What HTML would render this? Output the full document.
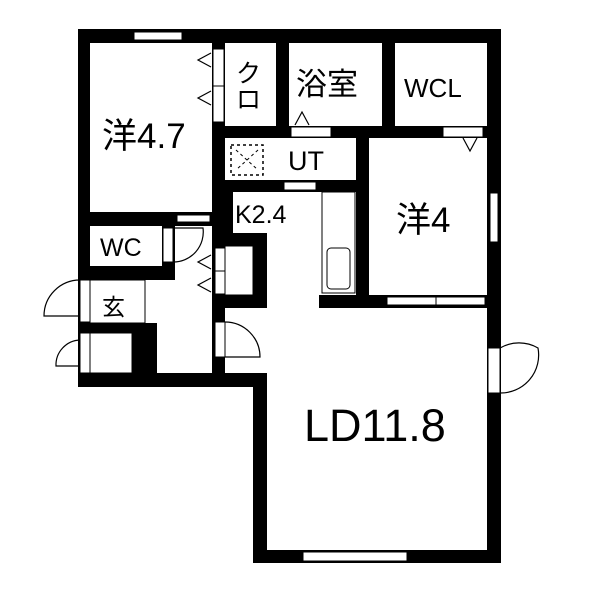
<!DOCTYPE html>
<html><head><style>body{margin:0;background:#fff}svg{display:block}text{font-family:"Liberation Sans","Noto Sans CJK JP",sans-serif;fill:#000}</style></head><body>
<svg width="600" height="600" viewBox="0 0 600 600" xmlns="http://www.w3.org/2000/svg">
<g fill="#000">
<rect x="78" y="29" width="423" height="14"/>
<rect x="78" y="29" width="12" height="251"/>
<rect x="487" y="29" width="14" height="534"/>
<rect x="253" y="550" width="248" height="13"/>
<rect x="253" y="373" width="14" height="190"/>
<rect x="78" y="373" width="189" height="14"/>
<rect x="212" y="43" width="13" height="190"/>
<rect x="276" y="43" width="13" height="95"/>
<rect x="382" y="43" width="13" height="95"/>
<rect x="225" y="126" width="262" height="12"/>
<rect x="212" y="180" width="157" height="12"/>
<rect x="212" y="180" width="21" height="53"/>
<rect x="356" y="138" width="13" height="170"/>
<rect x="319" y="295" width="168" height="13"/>
<rect x="90" y="212" width="122" height="14"/>
<rect x="162" y="226" width="13" height="54"/>
<rect x="78" y="266" width="97" height="14"/>
<rect x="212" y="233" width="55" height="13"/>
<rect x="253" y="233" width="14" height="75"/>
<rect x="212" y="295" width="55" height="13"/>
<rect x="212" y="233" width="13" height="140"/>
<rect x="78" y="323" width="79" height="10"/>
<rect x="132" y="323" width="25" height="50"/>
<rect x="78" y="280" width="12" height="93"/>
</g>
<g fill="#fff" stroke="#000" stroke-width="1">
<rect x="134" y="32" width="48" height="8"/>
<rect x="213" y="49" width="11" height="37"/>
<rect x="213" y="86" width="11" height="36"/>
<rect x="291" y="127" width="40" height="10"/>
<rect x="443" y="127" width="40" height="10"/>
<rect x="284" y="182" width="32" height="8"/>
<rect x="177" y="215" width="33" height="7"/>
<rect x="163" y="228" width="10" height="34"/>
<rect x="215" y="248" width="10" height="23"/>
<rect x="215" y="271" width="10" height="23"/>
<rect x="225" y="246" width="28" height="49"/>
<rect x="215" y="322" width="10" height="35"/>
<rect x="322" y="192" width="33" height="101"/>
<rect x="327" y="248" width="23" height="41" rx="4"/>
<rect x="387" y="297" width="49" height="8"/>
<rect x="436" y="297" width="49" height="8"/>
<rect x="490" y="193" width="8" height="49"/>
<rect x="488" y="348" width="12" height="45"/>
<rect x="303" y="552" width="104" height="9"/>
<rect x="80" y="280" width="10" height="42"/>
<rect x="80" y="333" width="10" height="40"/>
<rect x="90" y="280" width="55" height="43"/>
<rect x="90" y="333" width="42" height="40"/>
<rect x="233" y="192" width="48" height="40" stroke="none"/>
</g>
<g fill="none" stroke="#000" stroke-width="1.2">
<path d="M173 262 A30 30 0 0 0 203 228 L175 228"/>
<path d="M80 280 A36 36 0 0 0 44 316 L80 316"/>
<path d="M80 340 A25 25 0 0 0 56 366 L80 366"/>
<path d="M225 322 A35 35 0 0 1 260 357 L225 357"/>
<path d="M500 348 A38 38 0 0 1 538 348 A38 38 0 0 1 500 393"/>
<path d="M211 53 L198 60 L211 67"/>
<path d="M211 91 L198 98 L211 105"/>
<path d="M211 255 L198 262 L211 269"/>
<path d="M211 278 L198 285 L211 292"/>
<path d="M295 125 L302 112 L309 125"/>
<path d="M463 138 L470 151 L477 138"/>
</g>
<rect x="231" y="145" width="32" height="30" fill="none" stroke="#000" stroke-width="1.5" stroke-dasharray="3,3"/>
<path d="M236 150 L258 170 M258 150 L236 170" stroke="#000" stroke-width="1" stroke-dasharray="3,3"/>
<text x="102" y="148" font-size="35">洋4.7</text>
<text x="236" y="82" font-size="25">ク</text>
<text x="236" y="108" font-size="25">ロ</text>
<text x="296" y="95" font-size="31">浴室</text>
<text x="404" y="97" font-size="26">WCL</text>
<text x="288" y="170" font-size="27">UT</text>
<text x="235" y="223" font-size="25">K2.4</text>
<text x="396" y="232" font-size="35">洋4</text>
<text x="100" y="256" font-size="25">WC</text>
<text x="102" y="315" font-size="23">玄</text>
<text x="304" y="441" font-size="45">LD11.8</text>
</svg>
</body></html>
